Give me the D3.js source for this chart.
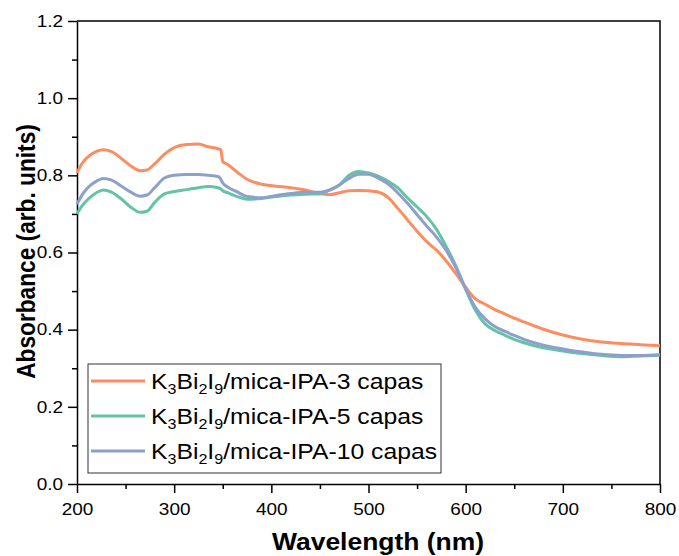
<!DOCTYPE html>
<html>
<head>
<meta charset="utf-8">
<script src="https://cdn.jsdelivr.net/npm/d3@7"></script>
<style>
  body { margin: 0; background: #fff; }
  svg { font-family: "Liberation Sans", Arial, sans-serif; }
</style>
</head>
<body>
<svg id="chart"></svg>
<script>
const width = 679, height = 556
const margin = { top: 21, right: 19, bottom: 72, left: 77 }
const SX = 1.15 // the original export is a bit wider than tall, so text is stretched horizontally

// wavelengths (nm) shared by all three spectra
const wavelengths = [200, 205, 210, 220, 227, 235, 245, 255, 265, 272, 280, 290, 300, 313, 325, 335, 345, 348, 350, 355,
    365, 375, 390, 405, 420, 435, 450, 460, 470, 480, 490, 500, 510, 520, 530, 540, 550, 560, 570, 580,
    590, 600, 610, 620, 630, 640, 650, 660, 680, 700, 720, 740, 760, 780, 800]

const capas3 = [0.806, 0.830, 0.845, 0.862, 0.866, 0.862, 0.845, 0.825, 0.812, 0.814, 0.830, 0.855, 0.872, 0.880, 0.881, 0.874, 0.869, 0.866, 0.835, 0.828,
    0.808, 0.790, 0.777, 0.772, 0.768, 0.762, 0.752, 0.750, 0.755, 0.760, 0.761, 0.760, 0.757, 0.743, 0.715, 0.685, 0.655, 0.628, 0.606, 0.578,
    0.545, 0.510, 0.480, 0.466, 0.452, 0.441, 0.430, 0.420, 0.401, 0.386, 0.375, 0.368, 0.364, 0.361, 0.358]

const capas5 = [0.700, 0.720, 0.735, 0.755, 0.762, 0.757, 0.740, 0.718, 0.704, 0.707, 0.730, 0.752, 0.758, 0.763, 0.768, 0.771, 0.768, 0.765, 0.760, 0.755,
    0.745, 0.738, 0.740, 0.745, 0.749, 0.751, 0.752, 0.762, 0.775, 0.800, 0.810, 0.806, 0.798, 0.785, 0.768, 0.742, 0.718, 0.693, 0.660, 0.615,
    0.565, 0.505, 0.450, 0.415, 0.398, 0.386, 0.375, 0.366, 0.353, 0.345, 0.338, 0.333, 0.330, 0.332, 0.334]

const capas10 = [0.725, 0.748, 0.765, 0.785, 0.792, 0.788, 0.773, 0.757, 0.746, 0.749, 0.768, 0.793, 0.800, 0.802, 0.802, 0.800, 0.797, 0.790, 0.780, 0.770,
    0.757, 0.745, 0.742, 0.748, 0.753, 0.756, 0.756, 0.762, 0.775, 0.792, 0.803, 0.803, 0.793, 0.778, 0.755, 0.728, 0.698, 0.668, 0.640, 0.605,
    0.560, 0.505, 0.458, 0.428, 0.408, 0.396, 0.385, 0.375, 0.360, 0.350, 0.342, 0.336, 0.333, 0.333, 0.335]

const seriesNames = ["3", "5", "10"]
const seriesColors = ["#fc8d62", "#66c2a5", "#8da0cb"]
const xTicks = [200, 300, 400, 500, 600, 700, 800]
const yTicks = [0.0, 0.2, 0.4, 0.6, 0.8, 1.0, 1.2]

const series = [capas3, capas5, capas10].map((vals, i) => ({
    name: seriesNames[i],
    color: seriesColors[i],
    points: wavelengths.map((w, j) => [w, vals[j]])
}))

// widen a text horizontally around its own x position
const stretch = sel => sel.each(function () {
    const t = d3.select(this)
    const x0 = +t.attr("x") || 0
    t.attr("x", x0 / SX).attr("transform", `scale(${SX},1)`)
})

const svg = d3.select("#chart").attr("width", width).attr("height", height)

const x = d3.scaleLinear().domain([200, 800]).range([margin.left, width - margin.right])
const y = d3.scaleLinear().domain([0, 1.2]).range([height - margin.bottom, margin.top])

// minor ticks
svg.append("g")
    .attr("transform", `translate(0,${height - margin.bottom})`)
    .call(d3.axisBottom(x).tickValues(d3.range(250, 800, 100)).tickSize(5).tickFormat(""))
    .call(g => g.select(".domain").remove())
    .call(g => g.selectAll("line").attr("stroke-width", 1.5))
svg.append("g")
    .attr("transform", `translate(${margin.left},0)`)
    .call(d3.axisLeft(y).tickValues(d3.range(0.1, 1.2, 0.2)).tickSize(5).tickFormat(""))
    .call(g => g.select(".domain").remove())
    .call(g => g.selectAll("line").attr("stroke-width", 1.5))

// major axes
svg.append("g")
    .attr("transform", `translate(0,${height - margin.bottom})`)
    .call(d3.axisBottom(x).tickValues(xTicks).tickSize(9).tickPadding(10).tickSizeOuter(0))
    .call(g => g.attr("font-family", null))
    .call(g => g.selectAll("line").attr("stroke-width", 1.5))
    .call(g => g.select(".domain").attr("stroke-width", 1.5))
    .call(g => g.selectAll("text").attr("font-size", 16.5).attr("fill", "#000").call(stretch))

svg.append("g")
    .attr("transform", `translate(${margin.left},0)`)
    .call(d3.axisLeft(y).tickValues(yTicks).tickSize(9).tickPadding(5).tickSizeOuter(0).tickFormat(d3.format(".1f")))
    .call(g => g.attr("font-family", null))
    .call(g => g.selectAll("line").attr("stroke-width", 1.5))
    .call(g => g.select(".domain").attr("stroke-width", 1.5))
    .call(g => g.selectAll("text").attr("font-size", 16.5).attr("fill", "#000").call(stretch))

// top and right frame
svg.append("path")
    .attr("d", `M${margin.left},${margin.top}H${width - margin.right}V${height - margin.bottom}`)
    .attr("fill", "none")
    .attr("stroke", "#000")
    .attr("stroke-width", 1.5)

const line = d3.line()
    .x(d => x(d[0]))
    .y(d => y(d[1]))
    .curve(d3.curveMonotoneX)

svg.append("g")
    .selectAll("path")
    .data(series)
    .join("path")
    .attr("fill", "none")
    .attr("stroke", d => d.color)
    .attr("stroke-width", 3)
    .attr("stroke-linejoin", "round")
    .attr("d", d => line(d.points))

// axis titles
svg.append("text")
    .attr("transform", `translate(378,550) scale(${SX},1)`)
    .attr("text-anchor", "middle")
    .attr("font-size", 23)
    .attr("font-weight", "bold")
    .text("Wavelength (nm)")

svg.append("text")
    .attr("transform", `translate(35,251.5) rotate(-90) scale(1,${SX})`)
    .attr("text-anchor", "middle")
    .attr("font-size", 22.7)
    .attr("font-weight", "bold")
    .text("Absorbance (arb. units)")

// legend
const legend = svg.append("g")
legend.append("rect")
    .attr("x", 88).attr("y", 364)
    .attr("width", 353).attr("height", 109)
    .attr("fill", "#fff")
    .attr("stroke", "#333")
    .attr("stroke-width", 1)

const items = legend.selectAll("g.item")
    .data(series)
    .join("g")
    .attr("class", "item")
    .attr("transform", (d, i) => `translate(91,${381 + i * 35})`)

items.append("line")
    .attr("x1", 0).attr("x2", 54)
    .attr("stroke", d => d.color)
    .attr("stroke-width", 3)

items.each(function (d) {
    const t = d3.select(this).append("text")
        .attr("x", 60)
        .attr("y", 8)
        .attr("font-size", 21.5)
    const parts = [["K", false], ["3", true], ["Bi", false], ["2", true], ["I", false], ["9", true],
        [`/mica-IPA-${d.name} capas`, false]]
    let down = false
    parts.forEach(([s, sub]) => {
        const ts = t.append("tspan").text(s)
        if (sub) ts.attr("font-size", 14)
        if (sub && !down) { ts.attr("dy", 5); down = true }
        else if (!sub && down) { ts.attr("dy", -5); down = false }
    })
    t.call(stretch)
})
</script>
</body>
</html>
